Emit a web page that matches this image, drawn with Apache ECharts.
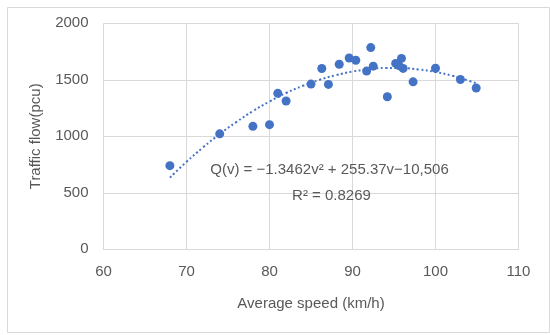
<!DOCTYPE html>
<html>
<head>
<meta charset="utf-8">
<script src="https://cdn.jsdelivr.net/npm/echarts@6/dist/echarts.min.js"></script>
<style>
html,body{margin:0;padding:0;background:#fff;}
#chart{width:550px;height:335px;}
</style>
</head>
<body>
<div id="chart"></div>
<script>
// Observed points: average speed (km/h) and traffic flow (pcu)
var speeds = [68, 74, 78, 80, 81, 82, 85, 86.3, 87.1, 88.4, 89.6, 90.4, 91.7, 92.2, 92.5, 94.2, 95.2, 95.6, 95.9, 96.1, 97.3, 100, 103, 104.9];
var flows  = [740, 1022, 1088, 1103, 1380, 1312, 1462, 1600, 1459, 1638, 1693, 1673, 1577, 1785, 1621, 1350, 1645, 1625, 1689, 1601, 1482, 1602, 1503, 1427];

// Trend line
var trendSpeeds = [68, 70, 72, 74, 76, 78, 80, 82, 84, 86, 88, 90, 92, 94, 96, 98, 100, 102, 104, 105];
var trendFlows  = [634, 774, 902, 1020, 1126, 1223, 1308, 1383, 1446, 1499, 1541, 1573, 1594, 1604, 1603, 1591, 1569, 1536, 1492, 1466];

var xTicks = [60, 70, 80, 90, 100, 110];
var yTicks = [0, 500, 1000, 1500, 2000];

var equationText = 'Q(v) = \u22121.3462v\u00B2 + 255.37v\u221210,506';
var r2Text = 'R\u00B2 = 0.8269';
var xName = 'Average speed (km/h)';
var yName = 'Traffic flow(pcu)';

var pts = speeds.map(function (s, i) { return [s, flows[i]]; });
var trend = trendSpeeds.map(function (s, i) { return [s, trendFlows[i]]; });

var FONT = '"Liberation Sans", Arial, sans-serif';
var TXT = '#595959';
var GRID = '#d9d9d9';
var FS = 15;

var chart = echarts.init(document.getElementById('chart'), null, {renderer: 'canvas'});
chart.setOption({
  animation: false,
  backgroundColor: '#fff',
  grid: {left: 103.5, right: 31.5, top: 23.3, bottom: 85.7},
  xAxis: {
    type: 'value',
    min: xTicks[0], max: xTicks[xTicks.length - 1], interval: 10,
    name: xName, nameLocation: 'middle', nameGap: 47,
    nameTextStyle: {color: TXT, fontSize: FS, fontFamily: FONT},
    axisLine: {show: true, lineStyle: {color: GRID, width: 1}},
    axisTick: {show: false},
    axisLabel: {color: TXT, fontSize: FS, fontFamily: FONT, margin: 15, formatter: function (v) { return String(v); }},
    splitLine: {show: true, lineStyle: {color: GRID, width: 1}}
  },
  yAxis: {
    type: 'value',
    min: yTicks[0], max: yTicks[yTicks.length - 1], interval: 500,
    name: yName, nameLocation: 'middle', nameGap: 60, nameRotate: 90,
    nameTextStyle: {color: TXT, fontSize: FS, fontFamily: FONT},
    axisLine: {show: false},
    axisTick: {show: false},
    axisLabel: {color: TXT, fontSize: FS, fontFamily: FONT, margin: 15, formatter: function (v) { return String(v); }},
    splitLine: {show: true, lineStyle: {color: GRID, width: 1}}
  },
  series: [
    {
      type: 'line',
      data: trend,
      smooth: true,
      showSymbol: false,
      symbol: 'none',
      lineStyle: {color: '#4472C4', width: 2, type: [2, 2.5]},
      z: 2
    },
    {
      type: 'scatter',
      data: pts,
      symbol: 'circle',
      symbolSize: 9,
      itemStyle: {color: '#4472C4', opacity: 1},
      z: 3
    }
  ],
  graphic: [
    {
      type: 'rect', left: 5, top: 5, z: -1, silent: true,
      shape: {width: 542, height: 325},
      style: {fill: 'none', stroke: GRID, lineWidth: 1}
    },
    {
      type: 'text', x: 329.5, y: 170, z: 10,
      style: {text: equationText, fill: TXT, font: FS + 'px ' + FONT, textAlign: 'center', textVerticalAlign: 'middle'}
    },
    {
      type: 'text', x: 331.5, y: 196, z: 10,
      style: {text: r2Text, fill: TXT, font: FS + 'px ' + FONT, textAlign: 'center', textVerticalAlign: 'middle'}
    }
  ]
});
</script>
</body>
</html>
